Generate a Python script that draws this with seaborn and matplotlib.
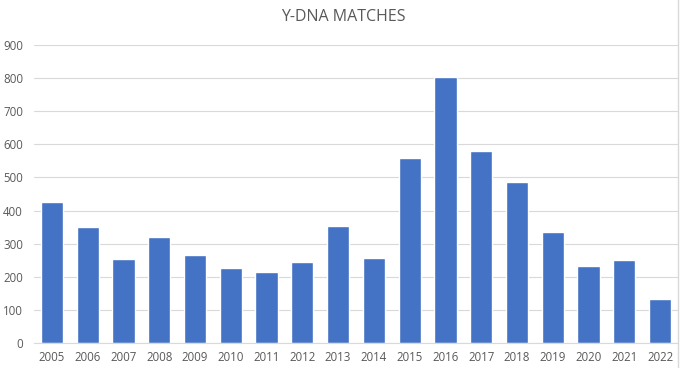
import pandas as pd
import matplotlib.pyplot as plt
import seaborn as sns

# data
years = ["2005", "2006", "2007", "2008", "2009", "2010", "2011", "2012", "2013",
         "2014", "2015", "2016", "2017", "2018", "2019", "2020", "2021", "2022"]
matches = [425, 350, 253, 320, 265, 226, 213, 244, 353,
           256, 560, 803, 581, 487, 334, 232, 250, 132]
y_ticks = [0, 100, 200, 300, 400, 500, 600, 700, 800, 900]

df = pd.DataFrame({"year": years, "matches": matches})

sns.set_style("white")
plt.rcParams['font.family'] = ['Open Sans', 'DejaVu Sans']

fig = plt.figure(figsize=(6.8, 3.68), dpi=100)
ax = fig.add_axes([34 / 680, 1 - 343 / 368, 644 / 680, (343 - 45) / 368])

sns.barplot(data=df, x="year", y="matches", color="#4472C4", saturation=1,
            width=0.62, ax=ax)

ax.set_ylim(0, 900)
ax.set_yticks(y_ticks)
ax.yaxis.grid(True, color="#D9D9D9", linewidth=0.8)
ax.set_axisbelow(True)
for side in ["top", "right", "left"]:
    ax.spines[side].set_visible(False)
ax.spines["bottom"].set_color("#D9D9D9")
ax.tick_params(axis="both", length=0, labelsize=8.3, labelcolor="#595959")
ax.tick_params(axis="x", pad=6)
ax.tick_params(axis="y", pad=8)
ax.set_xlabel("")
ax.set_ylabel("")

fig.text(343 / 680, 1 - 17 / 368, "Y-DNA MATCHES", ha="center", va="center",
         fontsize=11.5, color="#595959")

# chart area border on the right edge
fig.add_artist(plt.Line2D([678 / 680, 678 / 680], [0, 1], color="#D9D9D9",
                          linewidth=1, transform=fig.transFigure))

fig.savefig("out.png", dpi=100, facecolor="white")
